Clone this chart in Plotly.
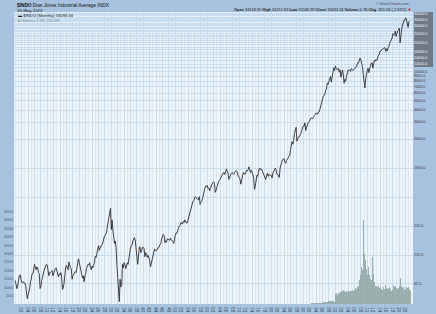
import plotly.graph_objects as go

# ---------------- data (approximate) ----------------
price_start_year = 1900
# Dow Jones Industrial Average, approx level at each quarter (Jan, Apr, Jul, Oct)
dow_quarterly = [
    68, 62, 56, 59,        # 1900
    70, 76, 78, 68,        # 1901
    65, 64, 66, 64,        # 1902
    64, 60, 50, 44,        # 1903
    48, 51, 56, 66,        # 1904
    70, 80, 80, 88,        # 1905
    100, 94, 88, 94,       # 1906
    92, 82, 80, 56,        # 1907
    58, 68, 76, 84,        # 1908
    86, 92, 96, 100,       # 1909
    98, 86, 76, 82,        # 1910
    82, 84, 86, 76,        # 1911
    82, 88, 90, 92,        # 1912
    86, 82, 74, 80,        # 1913
    78, 82, 72, 55,        # 1914
    57, 64, 80, 94,        # 1915
    98, 90, 88, 106,       # 1916
    96, 92, 90, 70,        # 1917
    76, 78, 82, 84,        # 1918
    82, 96, 108, 114,      # 1919
    104, 94, 88, 76,       # 1920
    72, 76, 66, 76,        # 1921
    80, 90, 94, 100,       # 1922
    98, 104, 92, 88,       # 1923
    96, 92, 98, 104,       # 1924
    122, 118, 130, 146,    # 1925
    156, 140, 152, 156,    # 1926
    156, 164, 174, 192,    # 1927
    200, 208, 212, 244,    # 1928
    300, 305, 340, 381,    # 1929
    230, 290, 225, 185,    # 1930
    165, 175, 150, 100,    # 1931
    78, 62, 41, 70,        # 1932
    58, 60, 100, 92,       # 1933
    104, 100, 90, 96,      # 1934
    104, 100, 120, 140,    # 1935
    148, 155, 160, 175,    # 1936
    180, 190, 175, 125,    # 1937
    120, 100, 140, 150,    # 1938
    152, 132, 140, 150,    # 1939
    150, 145, 120, 132,    # 1940
    130, 118, 124, 115,    # 1941
    110, 94, 102, 112,     # 1942
    120, 135, 144, 138,    # 1943
    138, 140, 148, 148,    # 1944
    155, 162, 166, 186,    # 1945
    195, 205, 200, 168,    # 1946
    176, 170, 184, 180,    # 1947
    180, 178, 188, 178,    # 1948
    176, 174, 165, 190,    # 1949
    200, 212, 210, 225,    # 1950
    240, 250, 255, 270,    # 1951
    270, 262, 280, 272,    # 1952
    290, 278, 268, 270,    # 1953
    290, 310, 340, 360,    # 1954
    400, 410, 450, 460,    # 1955
    480, 505, 490, 480,    # 1956
    480, 470, 505, 420,    # 1957
    440, 450, 480, 540,    # 1958
    590, 620, 650, 640,    # 1959
    660, 610, 620, 580,    # 1960
    620, 680, 690, 700,    # 1961
    720, 690, 560, 590,    # 1962
    650, 690, 720, 740,    # 1963
    770, 810, 830, 870,    # 1964
    890, 900, 860, 930,    # 1965
    980, 930, 870, 760,    # 1966
    800, 860, 880, 900,    # 1967
    880, 860, 900, 940,    # 1968
    940, 920, 840, 810,    # 1969
    800, 760, 680, 760,    # 1970
    840, 900, 890, 860,    # 1971
    900, 950, 930, 960,    # 1972
    1030, 950, 900, 950,   # 1973
    860, 850, 780, 600,    # 1974
    650, 780, 840, 820,    # 1975
    920, 990, 1000, 960,   # 1976
    970, 920, 900, 840,    # 1977
    780, 760, 830, 880,    # 1978
    820, 860, 840, 850,    # 1979
    840, 790, 890, 940,    # 1980
    960, 1000, 960, 860,   # 1981
    860, 830, 800, 1000,   # 1982
    1050, 1150, 1220, 1230,  # 1983
    1250, 1150, 1120, 1200,  # 1984
    1220, 1270, 1330, 1350,  # 1985
    1550, 1800, 1880, 1770,  # 1986
    1930, 2300, 2500, 2650,  # 1987
    1900, 2050, 2100, 2110,  # 1988
    2170, 2300, 2450, 2690,  # 1989
    2750, 2700, 2950, 2450,  # 1990
    2630, 2900, 2950, 3000,  # 1991
    3170, 3230, 3320, 3260,  # 1992
    3300, 3450, 3520, 3600,  # 1993
    3750, 3650, 3640, 3850,  # 1994
    3840, 4150, 4550, 4800,  # 1995
    5120, 5580, 5650, 5900,  # 1996
    6450, 6600, 7670, 7400,  # 1997
    7900, 8800, 8950, 7800,  # 1998
    9180, 9800, 10970, 10300,  # 1999
    11500, 10900, 10500, 10650,  # 2000
    10800, 9900, 10500, 8800,    # 2001
    10000, 10400, 9250, 7600,    # 2002
    8350, 8000, 9000, 9500,      # 2003
    10450, 10350, 10450, 10100,  # 2004
    10780, 10500, 10300, 10600,  # 2005
    10700, 11100, 11150, 11700,  # 2006
    12460, 12350, 13400, 13900,  # 2007
    13260, 12300, 11350, 9300,   # 2008
    8000, 6800, 8500, 9700,      # 2009
    10430, 10900, 9800, 10800,   # 2010
    11600, 12300, 12400, 10900,  # 2011
    12200, 13200, 12900, 13400,  # 2012
    13100, 14600, 15000, 15100,  # 2013
    16500, 16400, 16800, 17000,  # 2014
    17800, 17800, 17700, 16300,  # 2015
    17400, 16500, 17700, 18300,  # 2016
    19800, 20700, 21300, 22400,  # 2017
    24800, 24100, 24300, 26500,  # 2018
    23300, 26000, 26600, 26900,  # 2019
    28500, 20000, 25800, 27800,  # 2020
    30600, 33000, 34500, 34300,  # 2021
    36300, 34700, 31000, 29000,  # 2022
    33100, 33093,                # 2023
]

vol_start_year = 1990
# volume (left axis units), quarterly
volume_quarterly = [
    20, 20, 25, 25,        # 1990
    25, 30, 30, 30,        # 1991
    30, 35, 35, 35,        # 1992
    40, 40, 45, 45,        # 1993
    45, 50, 50, 55,        # 1994
    55, 60, 70, 80,        # 1995
    90, 100, 110, 110,     # 1996
    120, 130, 140, 160,    # 1997
    150, 160, 180, 200,    # 1998
    180, 150, 130, 140,    # 1999
    600, 650, 550, 650,    # 2000
    700, 650, 700, 800,    # 2001
    750, 800, 850, 750,    # 2002
    700, 750, 750, 700,    # 2003
    750, 800, 750, 800,    # 2004
    800, 850, 800, 850,    # 2005
    900, 950, 900, 1000,   # 2006
    1100, 1200, 1450, 1700,  # 2007
    2200, 2000, 2600, 5000,  # 2008
    3000, 2600, 2100, 1800,  # 2009
    1700, 2200, 1700, 1500,  # 2010
    1500, 1400, 2800, 1800,  # 2011
    1300, 1150, 1050, 1050,  # 2012
    1000, 1050, 950, 950,    # 2013
    1000, 900, 850, 950,     # 2014
    1000, 900, 1150, 950,    # 2015
    1100, 900, 950, 1000,    # 2016
    900, 850, 800, 850,      # 2017
    1150, 1000, 900, 1100,   # 2018
    950, 900, 950, 850,      # 2019
    1050, 1550, 1100, 950,   # 2020
    1050, 1000, 850, 900,    # 2021
    1000, 1050, 950, 1000,   # 2022
    900, 800,                # 2023
]

year_ticks = list(range(1902, 2023, 2))
year_labels = [f"{y % 100:02d}" for y in year_ticks]

# price axis: gridlines at every value, labels where they are legible
price_grid = [62.5, 125, 250, 500] + list(range(1000, 10001, 1000)) + list(range(11000, 40001, 1000))
price_labelled = [62.5, 125, 250, 1000, 2000, 3000, 4000, 5000, 6000, 7000, 8000, 9000, 10000,
                  12000, 14000, 16000, 20000, 25000, 30000, 35000, 40000]
price_labels = []
for v in price_grid:
    if v not in price_labelled:
        price_labels.append("")
    elif v > 11000:
        price_labels.append(f"<span style='color:#f2f4f7'>{v:.1f}</span>")
    else:
        price_labels.append(f"{v:.1f}")

vol_ticks = list(range(500, 5501, 500))
vol_labels = [str(v) for v in vol_ticks]

# ---------------- figure ----------------
price_x = [price_start_year + i / 4 for i in range(len(dow_quarterly))]
vol_x = [vol_start_year + i / 4 for i in range(len(volume_quarterly))]

W, H = 436, 314
L, R, T, B = 14, 23, 12, 10
PL, PR, PT, PB = L, W - R, T, H - B


def px(xp):
    return (xp - PL) / (PR - PL)


def py(yp):
    return (PB - yp) / (PB - PT)


FONT = "Liberation Sans"

fig = go.Figure()
fig.add_trace(go.Bar(
    x=vol_x, y=volume_quarterly, width=0.25, offset=0,
    marker=dict(color="rgba(135,160,156,0.8)", line=dict(width=0)),
    yaxis="y", name="Volume", showlegend=False, hoverinfo="skip",
))
fig.add_trace(go.Scatter(
    x=price_x, y=dow_quarterly, mode="lines",
    line=dict(color="#2f2f2f", width=0.9),
    yaxis="y2", name="$INDU", showlegend=False,
))

grid_major = "#c8ddef"
grid_minor = "#dce9f5"

fig.update_layout(
    width=W, height=H, autosize=False,
    margin=dict(l=L, r=R, t=T, b=B, pad=0),
    paper_bgcolor="#a6c2df",
    plot_bgcolor="#eef2f9",
    font=dict(family=FONT, size=5, color="#333"),
    bargap=0,
    xaxis=dict(
        range=[1899.6, 2024.28], tickvals=year_ticks, ticktext=year_labels,
        showgrid=True, gridcolor=grid_major, gridwidth=1,
        minor=dict(dtick=1, tick0=1900, showgrid=True, gridcolor=grid_minor, gridwidth=1),
        ticks="", zeroline=False, showline=False, automargin=False,
        tickfont=dict(size=4.5, color="#3a4a5a"),
        fixedrange=True,
    ),
    yaxis=dict(
        range=[0, 17380], tickvals=vol_ticks, ticktext=vol_labels,
        side="left", showgrid=False, zeroline=False, ticks="", automargin=False,
        tickfont=dict(size=4, color="#4a5a6a"),
    ),
    yaxis2=dict(
        type="log", range=[1.588, 4.621], overlaying="y", side="right",
        tickvals=price_grid, ticktext=price_labels,
        showgrid=True, gridcolor=grid_major, gridwidth=1,
        zeroline=False, ticks="", automargin=False,
        tickfont=dict(size=3.7, color="#333"),
    ),
)

# dark block behind the crowded top labels of the price axis
fig.add_shape(type="rect", xref="paper", yref="paper",
              x0=px(414), x1=px(433), y0=py(67), y1=py(12),
              fillcolor="#6f7a86", line=dict(width=0), layer="below")

ann = []


def text(x, y, s, size=5, color="#222", xanchor="left", **kw):
    ann.append(dict(x=px(x), y=py(y), xref="paper", yref="paper", text=s,
                    showarrow=False, xanchor=xanchor, yanchor="middle",
                    font=dict(size=size, color=color, family=FONT), **kw))


text(15, 5, "<b>$INDU</b> Dow Jones Industrial Average INDX", size=4.8, color="#111")
text(15, 10.5, "26-May-2023", size=4.3, color="#111")
text(16, 15.5, "<b>▬</b> $INDU (Monthly) 33093.34", size=4.2, color="#222")
text(16, 20, "<span style='color:#8aa29e'>■</span> Volume 1.7B, 265.8M", size=4.0, color="#7f8f94")
text(411, 4, "© StockCharts.com", size=3.8, color="#445", xanchor="right")
text(413, 9.5,
     "<b>Open</b> 34149.91 <b>High</b> 34257.83 <b>Low</b> 32586.99 <b>Close</b> 33093.34 "
     "<b>Volume</b> 6.7B <b>Chg</b> -955.58 (-2.81%) <span style='color:#c00'>▼</span>",
     size=3.9, color="#222", xanchor="right")

fig.update_layout(annotations=ann)

fig.write_html("out.html", include_plotlyjs=True, config={"displayModeBar": False})
